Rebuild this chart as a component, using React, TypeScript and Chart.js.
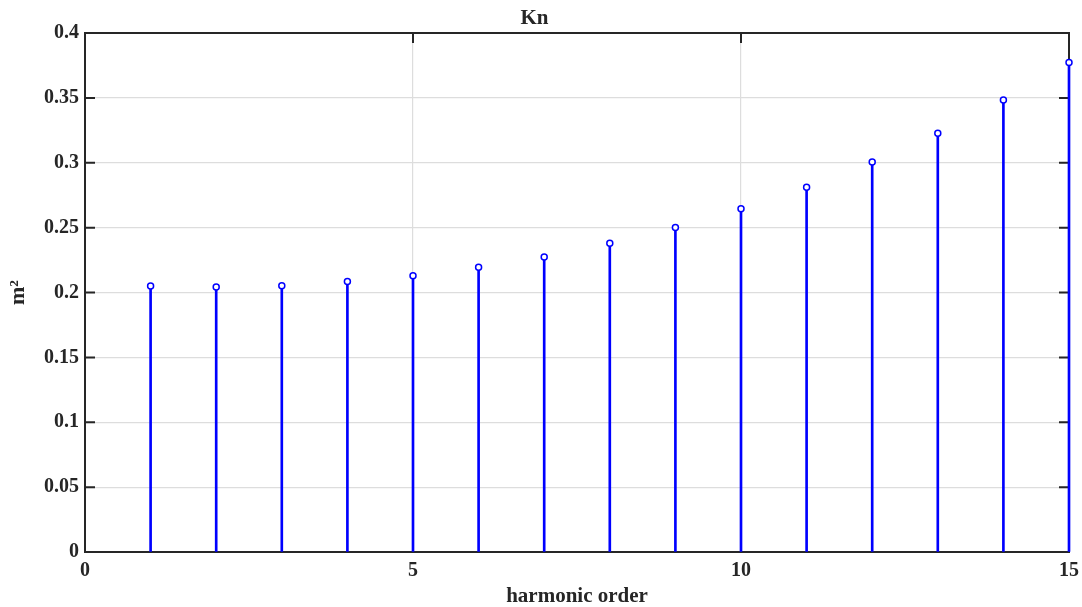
import React, { useEffect, useRef } from "react";
import { Chart, registerables } from "chart.js";

Chart.register(...registerables);

const harmonicOrders = [1, 2, 3, 4, 5, 6, 7, 8, 9, 10, 11, 12, 13, 14, 15];
const knValues = [0.205, 0.2042, 0.2052, 0.2085, 0.213, 0.2194, 0.2274, 0.2379, 0.2501, 0.2645, 0.2812, 0.3006, 0.3227, 0.3484, 0.3772];
const xTicks = [0, 5, 10, 15];
const yTickStep = 0.05;

const FONT = "'Liberation Serif', 'Times New Roman', serif";
const AXIS = "#262626";
const GRID = "#dddddd";
const BLUE = "#0000ff";

const framePlugin = {
  id: "frame",
  beforeDatasetsDraw(chart: any) {
    const { ctx, chartArea: a, scales } = chart;
    ctx.save();
    ctx.strokeStyle = AXIS;
    ctx.lineWidth = 2;
    ctx.strokeRect(a.left, a.top, a.right - a.left, a.bottom - a.top);
    const tl = 10;
    ctx.beginPath();
    scales.y.ticks.forEach((t: any) => {
      const y = scales.y.getPixelForValue(t.value);
      ctx.moveTo(a.left, y);
      ctx.lineTo(a.left + tl, y);
      ctx.moveTo(a.right, y);
      ctx.lineTo(a.right - tl, y);
    });
    scales.x.ticks.forEach((t: any) => {
      const x = scales.x.getPixelForValue(t.value);
      ctx.moveTo(x, a.top);
      ctx.lineTo(x, a.top + tl);
      ctx.moveTo(x, a.bottom);
      ctx.lineTo(x, a.bottom - tl);
    });
    ctx.stroke();
    ctx.restore();
  },
};

export default function App() {
  const ref = useRef<HTMLCanvasElement>(null);
  useEffect(() => {
    if (!ref.current) return;
    const chart = new Chart(ref.current, {
      type: "bar",
      data: {
        datasets: [
          {
            type: "scatter",
            data: harmonicOrders.map((x, i) => ({ x, y: knValues[i] })),
            pointStyle: "circle",
            pointRadius: 3,
            pointBorderWidth: 1.5,
            borderColor: BLUE,
            backgroundColor: "#ffffff",
            clip: false,
            order: 0,
          } as any,
          {
            type: "bar",
            data: harmonicOrders.map((x, i) => ({ x, y: knValues[i] })),
            backgroundColor: BLUE,
            borderWidth: 0,
            barThickness: 2,
            clip: false,
            order: 1,
          } as any,
        ],
      },
      options: {
        animation: false,
        responsive: true,
        maintainAspectRatio: false,
        layout: { padding: { top: 0, right: 13, left: 0, bottom: 0 } },
        plugins: {
          legend: { display: false },
          tooltip: { enabled: false },
          title: {
            display: true,
            text: "Kn",
            color: AXIS,
            font: { family: FONT, size: 21, weight: "bold", lineHeight: 1.2 },
            padding: { top: 6, bottom: 1.8 },
          },
        },
        scales: {
          x: {
            type: "linear",
            min: 0,
            max: 15,
            offset: false,
            afterBuildTicks: (s: any) => {
              s.ticks = xTicks.map((v) => ({ value: v }));
            },
            afterFit: (s: any) => {
              s.height = 55;
              s.paddingLeft = 0;
              s.paddingRight = 0;
            },
            ticks: {
              color: AXIS,
              padding: 7,
              maxRotation: 0,
              font: { family: FONT, size: 20, weight: "bold" },
            },
            grid: { color: GRID, lineWidth: 1.2, drawTicks: false, offset: false },
            border: { display: false },
            title: {
              display: true,
              text: "harmonic order",
              color: AXIS,
              font: { family: FONT, size: 21, weight: "bold", lineHeight: 1 },
              padding: { top: 0, bottom: 0 },
            },
          },
          y: {
            type: "linear",
            min: 0,
            max: 0.4,
            afterFit: (s: any) => {
              s.width = 85;
            },
            ticks: {
              stepSize: yTickStep,
              color: AXIS,
              padding: 6,
              font: { family: FONT, size: 20, weight: "bold" },
              callback: (v: any) => String(+Number(v).toFixed(2)),
            },
            grid: { color: GRID, lineWidth: 1.2, drawTicks: false },
            border: { display: false },
            title: {
              display: true,
              text: "m²",
              color: AXIS,
              font: { family: FONT, size: 22, weight: "bold", lineHeight: 1 },
              padding: { top: 7, bottom: 0 },
            },
          },
        },
      } as any,
      plugins: [framePlugin],
    });
    return () => chart.destroy();
  }, []);
  return (
    <div style={{ position: "absolute", left: 0, top: 0, width: 1082, height: 607, background: "#fff" }}>
      <canvas ref={ref} />
    </div>
  );
}
